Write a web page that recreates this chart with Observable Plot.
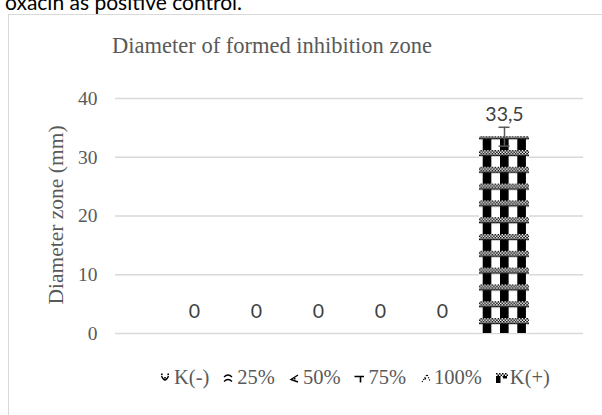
<!DOCTYPE html>
<html><head><meta charset="utf-8">
<script src="https://cdn.jsdelivr.net/npm/d3@7"></script>
<script src="https://cdn.jsdelivr.net/npm/@observablehq/plot@0.6"></script>
<style>
body{margin:0;background:#fff;}
#wrap{position:relative;width:602px;height:415px;overflow:hidden;background:#fff;}
#top{position:absolute;left:5px;top:-9px;font:21px Lato, sans-serif;line-height:21px;color:#000;white-space:nowrap;}
#box{position:absolute;left:8px;top:14px;width:640px;height:440px;border:1px solid #d9d9d9;box-sizing:border-box;}
#title{position:absolute;left:0;width:544px;top:33px;text-align:center;font:22.5px "Liberation Serif",serif;color:#595959;white-space:nowrap;}
#ylab{position:absolute;left:56px;top:215px;transform:translate(-50%,-50%) rotate(-90deg);font:21.5px "Liberation Serif",serif;color:#595959;white-space:nowrap;}
#chart{position:absolute;left:0;top:0;}
#legend{position:absolute;left:160px;top:366px;display:flex;align-items:center;font:20.5px "Liberation Serif",serif;color:#595959;white-space:nowrap;}
#legend .it{display:flex;align-items:center;margin-right:14px;}
#legend svg{margin-right:2px;}
</style></head>
<body>
<svg width="0" height="0" style="position:absolute">
  <defs>
    <pattern id="dots" width="3" height="3" patternUnits="userSpaceOnUse">
      <rect width="3" height="3" fill="#fff"/>
      <rect width="1.5" height="1.5" fill="#000"/>
      <rect x="1.5" y="1.5" width="1.5" height="1.5" fill="#000"/>
    </pattern>
    <pattern id="pkplus" x="482.7" y="133.2" width="17.3" height="16.8" patternUnits="userSpaceOnUse">
      <rect width="17.3" height="16.8" fill="#fff"/>
      <rect width="8.6" height="16.8" fill="#000"/>
      <rect y="0" width="17.3" height="6" fill="url(#dots)"/>
      <rect y="5.2" width="17.3" height="0.9" fill="#000"/>
    </pattern>
    <pattern id="pother" width="6" height="6" patternUnits="userSpaceOnUse">
      <rect width="6" height="6" fill="#fff"/>
      <circle cx="3" cy="3" r="1.2" fill="#000"/>
    </pattern>
  </defs>
</svg>
<div id="wrap">
  <div id="top">oxacin as positive control.</div>
  <div id="box"></div>
  <div id="title">Diameter of formed inhibition zone</div>
  <div id="ylab">Diameter zone (mm)</div>
  <div id="chart"></div>
  <div id="legend"></div>
</div>
<script>
const categories = ["K(-)", "25%", "50%", "75%", "100%", "K(+)"];
const values = [0, 0, 0, 0, 0, 33.5];
const errors = [0, 0, 0, 0, 0, 1.6];
const yTicks = [0, 10, 20, 30, 40];
const fills = ["url(#pother)", "url(#pother)", "url(#pother)", "url(#pother)", "url(#pother)", "url(#pkplus)"];

const data = categories.map((c, i) => ({c, v: values[i], e: errors[i], f: fills[i]}));
const errData = data.filter(d => d.e > 0);

const chart = Plot.plot({
  width: 602, height: 415,
  marginTop: 98, marginBottom: 82, marginLeft: 115, marginRight: 19,
  style: {background: "transparent", overflow: "visible"},
  x: {domain: categories, range: [161, 536], paddingInner: 0.2, paddingOuter: 0.1, axis: null},
  y: {domain: [0, 40], axis: null},
  color: {type: "identity"},
  marks: [
    Plot.ruleY(yTicks, {stroke: "#d9d9d9", strokeWidth: 1.3}),
    Plot.axisY(yTicks, {tickSize: 0, tickPadding: 18, fontSize: 19.5, fontFamily: "Liberation Serif", fill: "#595959", label: null}),
    Plot.barY(data, {x: "c", y: "v", fill: "f"}),
    Plot.ruleX(errData, {x: "c", y1: d => d.v - d.e, y2: d => d.v + d.e, stroke: "#595959", strokeWidth: 1.5}),
    Plot.tickY(errData, {x: "c", y: d => d.v + d.e, insetLeft: 19.5, insetRight: 19.5, stroke: "#595959", strokeWidth: 1.5}),
    Plot.tickY(errData, {x: "c", y: d => d.v - d.e, insetLeft: 19.5, insetRight: 19.5, stroke: "#595959", strokeWidth: 1.5}),
    Plot.text(data, {x: "c", y: "v", text: d => String(d.v).replace(".", ","), dy: -22, fontSize: 19.5, fontFamily: "Lato, sans-serif", fill: "#404040"})
  ]
});
document.getElementById("chart").appendChild(chart);

const icons = [
  '<path d="M1.5,3 Q5,11 8.5,3" fill="none" stroke="#000" stroke-width="1.4"/><rect x="1" y="0.5" width="1.6" height="1.6"/><rect x="7.4" y="0.5" width="1.6" height="1.6"/><rect x="4.2" y="4" width="1.6" height="1.6"/>',
  '<path d="M1,4 Q5,0 9,4" fill="none" stroke="#000" stroke-width="1.3"/><path d="M1,8.5 Q5,4.5 9,8.5" fill="none" stroke="#000" stroke-width="1.3"/>',
  '<path d="M9,2 L2,6.5 L9,9" fill="none" stroke="#000" stroke-width="1.4"/><rect x="5" y="5" width="1.5" height="1.5"/>',
  '<path d="M0.5,3.5 H10 M6.5,3.5 V9.5" fill="none" stroke="#000" stroke-width="1.6"/>',
  '<path d="M2,9 L7,1.5 L10,8" fill="none" stroke="#000" stroke-width="1.2" stroke-dasharray="1.2,1.2"/><rect x="4.5" y="5" width="1.5" height="1.5"/>',
  '<rect x="0" y="0" width="12" height="3.5" fill="url(#dots)"/><rect x="0" y="3" width="4.5" height="7"/><rect x="7" y="3" width="4" height="2.5"/>'
];
const legend = document.getElementById("legend");
categories.forEach((c, i) => {
  const it = document.createElement("div");
  it.className = "it";
  it.innerHTML = `<svg width="12" height="10" viewBox="0 0 12 10">${icons[i]}</svg><span>${c}</span>`;
  legend.appendChild(it);
});
</script>
</body></html>
